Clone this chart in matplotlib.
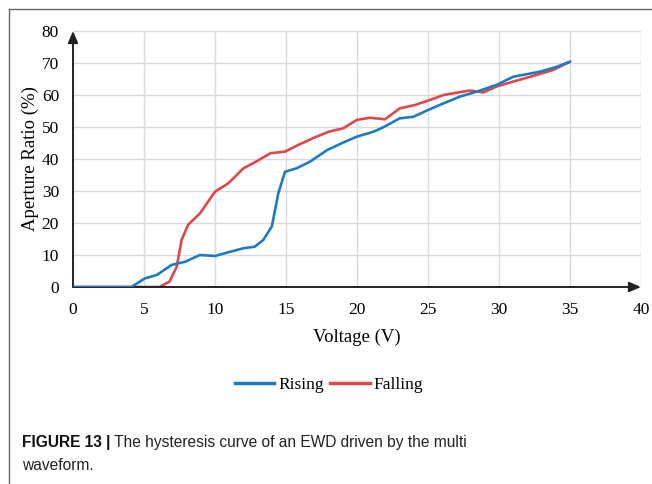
import matplotlib.pyplot as plt
from matplotlib.lines import Line2D

rise_v = [0, 4.1, 5.07, 5.9, 6.95, 7.9, 8.94, 10.0, 11.06, 12.0, 12.8, 13.4, 14.0, 14.46,
          14.93, 15.75, 16.7, 17.9, 19.0, 20.0, 21.15, 21.85, 23.0, 23.97, 25.0, 26.1,
          27.25, 28.4, 29.8, 31.0, 31.95, 32.9, 34.06, 35.0]
rise_ap = [0, 0, 2.7, 3.75, 6.9, 7.9, 10.0, 9.7, 11.0, 12.1, 12.6, 14.7, 18.9, 29.3,
           36.0, 37.1, 39.2, 42.8, 45.1, 47.0, 48.5, 49.9, 52.7, 53.2, 55.3, 57.4,
           59.5, 61.0, 63.1, 65.7, 66.5, 67.3, 68.8, 70.4]

fall_v = [0, 6.1, 6.8, 7.3, 7.65, 8.1, 8.94, 10.0, 10.94, 12.0, 12.9, 13.9, 14.93, 15.87,
          16.9, 17.98, 19.03, 19.98, 20.9, 21.97, 23.0, 24.1, 25.1, 26.1, 27.0, 27.96,
          28.9, 29.8, 31.0, 32.2, 33.8, 35.0]
fall_ap = [0, 0, 1.7, 6.3, 14.7, 19.4, 23.0, 29.8, 32.4, 37.1, 39.2, 41.8, 42.3, 44.4,
           46.5, 48.5, 49.6, 52.2, 52.9, 52.4, 55.8, 56.9, 58.4, 60.0, 60.7, 61.4,
           60.8, 62.6, 64.2, 65.7, 67.8, 70.4]

x_ticks = [0, 5, 10, 15, 20, 25, 30, 35, 40]
y_ticks = [0, 10, 20, 30, 40, 50, 60, 70, 80]

blue = '#1f7bc1'
red = '#e0474c'
serif = ['Liberation Serif', 'DejaVu Serif']
sans = ['Liberation Sans', 'DejaVu Sans']

fig = plt.figure(figsize=(6.52, 4.84), dpi=100)
W, H = 652, 484
ax = fig.add_axes([73 / W, (H - 287) / H, (641 - 73) / W, (287 - 31) / H])

ax.plot(fall_v, fall_ap, color=red, lw=1.9, solid_capstyle='round', solid_joinstyle='round', zorder=3)
ax.plot(rise_v, rise_ap, color=blue, lw=1.9, solid_capstyle='round', solid_joinstyle='round', zorder=4)

ax.set_xlim(0, 40)
ax.set_ylim(0, 80)
ax.set_xticks(x_ticks)
ax.set_yticks(y_ticks)
ax.grid(True, color='#d9d9d9', lw=1.0)
ax.tick_params(length=0, labelsize=12.5)
ax.tick_params(axis='x', pad=11)
ax.tick_params(axis='y', pad=10)
for lab in ax.get_xticklabels() + ax.get_yticklabels():
    lab.set_family(serif)
for s in ax.spines.values():
    s.set_visible(False)

# axes with arrows
arrow = dict(arrowstyle='-|>,head_length=0.7,head_width=0.3', color='#222222', lw=1.4,
             shrinkA=0, shrinkB=0)
ax.annotate('', xy=(40, 0), xytext=(0, 0), annotation_clip=False, arrowprops=arrow)
ax.annotate('', xy=(0, 80), xytext=(0, 0), annotation_clip=False, arrowprops=arrow)

ax.set_xlabel('Voltage (V)', family=serif, fontsize=13.5)
ax.set_ylabel('Aperture Ratio (%)', family=serif, fontsize=13.5)
ax.xaxis.set_label_coords(0.5, -(337 - 287) / 256)
ax.yaxis.set_label_coords(-(73 - 30) / 568, 0.5)
ax.xaxis.label.set_va('center')
ax.yaxis.label.set_va('center')

handles = [Line2D([], [], color=blue, lw=2.5), Line2D([], [], color=red, lw=2.5)]
fig.legend(handles, ['Rising', 'Falling'], loc='center', bbox_to_anchor=(329 / W, 1 - 385 / H),
           ncol=2, frameon=False, prop={'family': serif, 'size': 12.5},
           handlelength=2.3, handletextpad=0.25, columnspacing=0.3)

# border lines of the figure panel
fig.add_artist(Line2D([9 / W, 9 / W], [0, 1 - 9 / H], color='#666666', lw=1.0))
fig.add_artist(Line2D([9 / W, 1], [1 - 9 / H, 1 - 9 / H], color='#666666', lw=1.0))

# caption
t1 = fig.text(22 / W, 1 - 442 / H, 'FIGURE 13 |', family=sans, fontweight='bold',
              fontsize=11.2, va='center', ha='left', color='#111111')
fig.canvas.draw()
bb = t1.get_window_extent()
fig.text(bb.x1 / W + 4 / W, 1 - 442 / H, 'The hysteresis curve of an EWD driven by the multi',
         family=sans, fontsize=11.2, va='center', ha='left', color='#222222')
fig.text(22 / W, 1 - 465 / H, 'waveform.', family=sans, fontsize=11.2, va='center', ha='left',
         color='#222222')

fig.savefig('out.png', dpi=100)
